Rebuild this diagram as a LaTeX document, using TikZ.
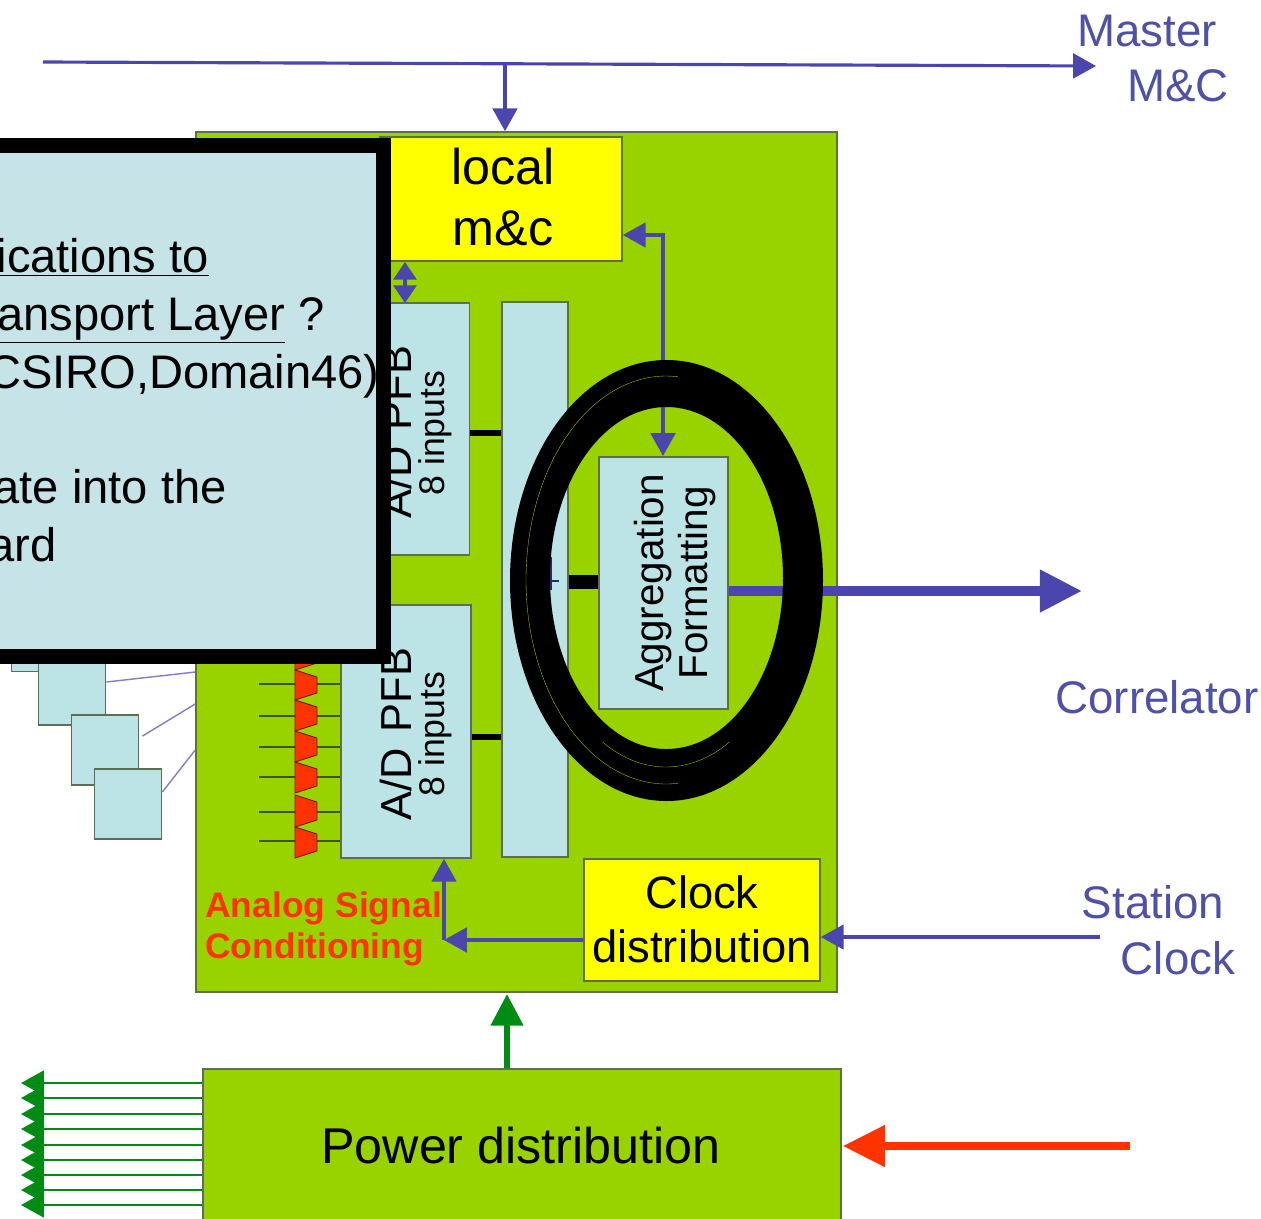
\documentclass[tikz,border=0pt]{standalone}
\usepackage{fontspec}
\setmainfont{Liberation Sans}
\usetikzlibrary{arrows.meta}
\definecolor{rackgreen}{HTML}{98D300}
\definecolor{boxblue}{HTML}{BCE4E7}
\definecolor{noteblue}{HTML}{C6E4E7}
\definecolor{linkblue}{HTML}{4B46AE}
\definecolor{labelblue}{HTML}{4F51A6}
\definecolor{powergreen}{HTML}{008C14}
\definecolor{hotred}{HTML}{FF3300}
\definecolor{edgegray}{HTML}{5E6E50}
\definecolor{boardyellow}{HTML}{FFFF00}
\newcommand{\pxfont}[1]{\fontsize{#1}{#1}\selectfont}
\tikzset{
  panel/.style={draw=edgegray,line width=1pt,inner sep=0pt},
  rackbox/.style={panel,fill=rackgreen},
  bluebox/.style={panel,fill=boxblue},
  yellowbox/.style={panel,fill=boardyellow},
  bluelink/.style={linkblue,line width=1.8pt,-{Triangle[length=13pt,width=14pt]}},
  greenlink/.style={powergreen,line width=1.6pt,-{Triangle[length=13pt,width=14pt]}},
  bus/.style={black,line width=3pt},
  label/.style={labelblue,font=\pxfont{26}},
  blockname/.style={black,font=\pxfont{24.7},align=center},
  notetext/.style={black,font=\pxfont{26.8},anchor=base east,inner sep=0pt},
}
\begin{document}
\begin{tikzpicture}[x=0.02cm,y=-0.02cm]
\clip (0,0) rectangle (1261,1218);
\fill[white] (0,0) rectangle (1261,1218);
% antenna squares on the left
\node[bluebox,minimum width=1.34cm,minimum height=1.34cm] (antzero) at (45,638) {};
\node[bluebox,minimum width=1.34cm,minimum height=1.4cm] (antone) at (72,690) {};
\node[bluebox,minimum width=1.34cm,minimum height=1.4cm] (anttwo) at (105,750) {};
\node[bluebox,minimum width=1.34cm,minimum height=1.4cm] (antthree) at (128,804) {};
% main board
\node[rackbox,minimum width=12.82cm,minimum height=17.2cm] (rack) at (516.5,562) {};
\draw[linkblue!70,line width=0.8pt] (antone.east) ++(0,-8) -- (rack.west |- 0,672);
\draw[linkblue!70,line width=0.8pt] (anttwo.north east) ++(3,22) -- (rack.west |- 0,704);
\draw[linkblue!70,line width=0.8pt] (antthree.east) ++(0,-12) -- (rack.west |- 0,750);
\node[yellowbox,minimum width=4.84cm,minimum height=2.48cm] (localmc) at (501,199) {};
\node[blockname,font=\pxfont{28.6}] (localtxt) at (503,197) {local\\[6pt]m\&c};
% A/D inputs
\foreach \yy in {652,684,716,747,777,812,841} {
  \draw[black!60!rackgreen,line width=1pt] (259,\yy) -- (341,\yy);
}
\foreach \yt/\yb in {640/670,670/700,700/731,731/762,762/793,795/827,827/858} {
  \draw[fill=hotred,draw=black!55!hotred,line width=0.5pt] (295,\yt) -- (317,\yt+7) -- (317,\yb-7) -- (295,\yb) -- cycle;
}
\node[bluebox,minimum width=2.58cm,minimum height=5.04cm] (pfbone) at (405,429) {};
\node[bluebox,minimum width=2.6cm,minimum height=5.06cm] (pfbtwo) at (406,731.5) {};
\node[bluebox,minimum width=1.32cm,minimum height=11.1cm] (bar) at (535,579.5) {};
\node[bluebox,minimum width=2.58cm,minimum height=5.04cm] (aggr) at (663.5,583) {};
\node[rotate=90,blockname] at (396,432) {A/D\hspace{9pt}PFB};
\node[rotate=90,blockname,font=\pxfont{20.3}] at (435,433) {8 inputs};
\node[rotate=90,blockname] at (396,734) {A/D\hspace{9pt}PFB};
\node[rotate=90,blockname,font=\pxfont{20.3}] at (435,734) {8 inputs};
\node[rotate=90,blockname,font=\pxfont{23}] (aggrtxt) at (675,583) {Aggregation\\[2pt]Formatting};
\draw[bus] (pfbone.east |- 0,433) -- (bar.west |- 0,433);
\draw[bus] (pfbtwo.east |- 0,737) -- (bar.west |- 0,737);
\draw[bus,line width=8pt] (bar.east |- 0,582) -- (aggr.west |- 0,582);
% clock, power
\node[yellowbox,minimum width=4.72cm,minimum height=2.44cm] (clock) at (702,920) {};
\node[blockname,font=\pxfont{25.8}] (clocktxt) at (702,919.5) {Clock\\[5pt]distribution};
\node[rackbox,minimum width=12.76cm,minimum height=4cm] (power) at (522,1169) {};
\node[black,font=\pxfont{28.6}] (powertxt) at (521,1146) {Power distribution};
\node[font=\bfseries\pxfont{20.2},text=hotred,align=left,anchor=west,inner sep=0pt] (analog) at (205,929) {Analog Signal\\[3pt]Conditioning};
% monitor and control links
\coordinate (masterin) at (43,62);
\coordinate (masterout) at (1096,66);
\coordinate (mastertap) at (505,65);
\coordinate (clockin) at (1100,937);
\coordinate (powerin) at (1130,1146);
\coordinate (clockjoin) at (444,940);
\draw[bluelink] (masterin) -- (masterout);
\draw[bluelink] (mastertap) -- (mastertap |- rack.north);
\draw[bluelink,{Triangle[length=13pt,width=14pt]}-{Triangle[length=13pt,width=14pt]}] (localmc.east |- 0,235) -- (663,235) -- (663,456);
\draw[bluelink,{Triangle[length=10pt,width=13pt]}-{Triangle[length=10pt,width=13pt]}] (405,262) -- (405,303);
\draw[bluelink] (clock.west |- clockjoin) -- (clockjoin);
\draw[bluelink] (clockjoin) -- (clockjoin |- pfbtwo.south);
\draw[bluelink] (clockin) -- (clock.east |- clockin);
\draw[linkblue,line width=5.5pt,-{Triangle[length=24pt,width=23pt]}] (aggr.east |- 0,591) -- (1082,591);
\draw[powergreen,line width=3.2pt,-{Triangle[length=18pt,width=18pt]}] (power.north -| 507,0) -- (507,994);
\draw[hotred,line width=4.2pt,-{Triangle[length=24pt,width=23pt]}] (powerin) -- (843,1146);
\foreach \yy in {1083,1098,1114,1129,1145,1160,1175,1190,1205} {
  \draw[greenlink] (power.west |- 0,\yy) -- (21,\yy);
}
% notes on top
\node[draw=black,fill=noteblue,line width=8.5pt,minimum width=8.48cm,minimum height=10.22cm] (note) at (172,401) {};
\node[notetext] (noteone) at (209,272) {\underline{ications to}};
\node[notetext] (notetwo) at (325,330) {\underline{ansport Layer} ?};
\node[notetext] (notethree) at (380,388) {CSIRO,Domain46)};
\node[notetext] (notefour) at (227,503) {ate into the};
\node[notetext] (notefive) at (57,561) {ard};
% ring over the aggregation block
\draw[linkblue!60!black,line width=1.2pt] (551,557) -- (551,590) (551,581) -- (559,581);
\fill[black,even odd rule] (666.5,580.5) ellipse (156.5 and 220.5) (666.5,578) ellipse (116.5 and 171);
\draw[rackgreen,line width=0.2pt] plot[domain=85:275,samples=60,smooth] ({666+140*cos(\x)},{580+204*sin(\x)});
\draw[rackgreen,line width=0.2pt] plot[domain=60:120,samples=30,smooth] ({666+127*cos(\x)},{580+187*sin(\x)});
% outside labels
\node[label] (masterlbl) at (1147,31) {Master};
\node[label] (mclbl) at (1178,86) {M\&C};
\node[label] (corrlbl) at (1157,697) {Correlator};
\node[label] (stationlbl) at (1153,902) {Station};
\node[label] (clocklbl) at (1178,958) {Clock};
\end{tikzpicture}
\end{document}
